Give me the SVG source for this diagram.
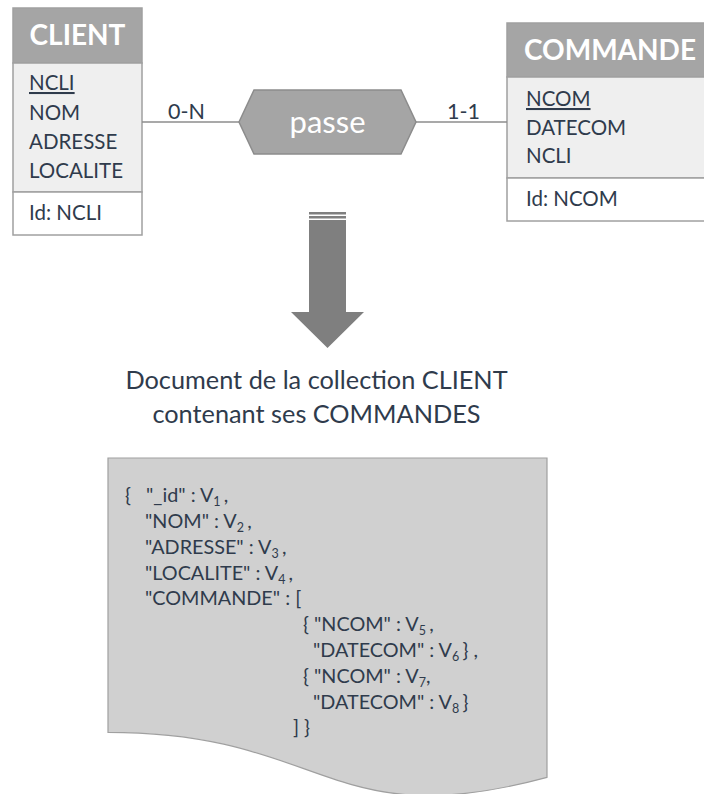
<svg xmlns="http://www.w3.org/2000/svg" width="704" height="794" viewBox="0 0 704 794">
<style>
  .t { font-family: Lato, "Noto Sans", "Liberation Sans", sans-serif; fill: #2f3b4c; }
  .hdr { fill: #a5a5a5; stroke: #a0a0a0; stroke-width: 1.5; }
  .bod { fill: #efefef; stroke: #a0a0a0; stroke-width: 1.5; }
  .idp { fill: #ffffff; stroke: #a0a0a0; stroke-width: 1.5; }
  .ht { font-family: Lato, "Noto Sans", "Liberation Sans", sans-serif; font-weight: bold; font-size: 28px; fill: #ffffff; text-anchor: middle; }
  .at { font-size: 20.5px; }
  .lb { font-size: 21.5px; }
  .conn { stroke: #8c8c8c; stroke-width: 1.5; fill: none; }
  .js { font-size: 19.8px; }
  .sub { font-size: 12.5px; }
  .arr { fill: #7f7f7f; }
</style>

<g id="client">
  <rect class="hdr" x="13" y="8" width="129" height="55"/>
  <rect class="bod" x="13" y="63" width="129" height="129"/>
  <rect class="idp" x="13" y="192" width="129" height="43"/>
  <text class="ht" x="77.5" y="45">CLIENT</text>
  <text class="t at" x="29" y="90" text-decoration="underline">NCLI</text>
  <text class="t at" x="29" y="119.5">NOM</text>
  <text class="t at" x="29" y="149">ADRESSE</text>
  <text class="t at" x="29" y="178">LOCALITE</text>
  <text class="t at" x="29" y="220">Id: NCLI</text>
</g>

<g id="commande">
  <rect class="hdr" x="507" y="23" width="206" height="54"/>
  <rect class="bod" x="507" y="77" width="206" height="101"/>
  <rect class="idp" x="507" y="178" width="206" height="43"/>
  <text class="ht" x="610" y="60">COMMANDE</text>
  <text class="t at" x="526" y="106" text-decoration="underline">NCOM</text>
  <text class="t at" x="526" y="135">DATECOM</text>
  <text class="t at" x="526" y="163">NCLI</text>
  <text class="t at" x="526" y="206">Id: NCOM</text>
</g>

<g id="connectors">
  <line class="conn" x1="142" y1="122" x2="239" y2="122"/>
  <line class="conn" x1="416" y1="122" x2="507" y2="122"/>
  <text class="t lb" x="168" y="119">0-N</text>
  <text class="t lb" x="447" y="119">1-1</text>
</g>

<g id="passe">
  <polygon points="239,122 254,90 401,90 416,122 401,154 254,154" fill="#a5a5a5" stroke="#8c8c8c" stroke-width="1.5"/>
  <text x="327.5" y="133" font-family="Lato, 'Noto Sans', sans-serif" font-size="31" fill="#ffffff" text-anchor="middle">passe</text>
</g>

<g id="arrow">
  <rect class="arr" x="309" y="212" width="37" height="2.5"/>
  <rect class="arr" x="309" y="216" width="37" height="2.5"/>
  <polygon class="arr" points="309,220 346,220 346,312 364,312 327.5,348 291,312 309,312"/>
</g>

<g id="title">
  <text class="t" x="316.5" y="389" font-size="25.3" text-anchor="middle">Document de la collection CLIENT</text>
  <text class="t" x="316.5" y="423" font-size="25.3" text-anchor="middle">contenant ses COMMANDES</text>
</g>

<g id="document">
  <path d="M108,458 H547 V777.4 C327.5,836.6 327.5,732.3 108,732.3 Z" fill="#d0d0d0" stroke="#a0a0a0" stroke-width="1.2"/>
  <text class="t js" x="125" y="502">{<tspan x="146">"_id" : V</tspan><tspan class="sub" dy="4">1 </tspan><tspan dy="-4">,</tspan></text>
  <text class="t js" x="145" y="528">"NOM" : V<tspan class="sub" dy="4">2 </tspan><tspan dy="-4">,</tspan></text>
  <text class="t js" x="145" y="553.5">"ADRESSE" : V<tspan class="sub" dy="4">3 </tspan><tspan dy="-4">,</tspan></text>
  <text class="t js" x="145" y="579.5">"LOCALITE" : V<tspan class="sub" dy="4">4 </tspan><tspan dy="-4">,</tspan></text>
  <text class="t js" x="145" y="605">"COMMANDE" : [</text>
  <text class="t js" x="303" y="631">{ "NCOM" : V<tspan class="sub" dy="4">5 </tspan><tspan dy="-4">,</tspan></text>
  <text class="t js" x="313" y="657">"DATECOM" : V<tspan class="sub" dy="4">6 </tspan><tspan dy="-4">} ,</tspan></text>
  <text class="t js" x="303" y="682.5">{ "NCOM" : V<tspan class="sub" dy="4">7</tspan><tspan dy="-4">,</tspan></text>
  <text class="t js" x="313" y="708.5">"DATECOM" : V<tspan class="sub" dy="4">8 </tspan><tspan dy="-4">}</tspan></text>
  <text class="t js" x="293" y="734">] }</text>
</g>
</svg>
